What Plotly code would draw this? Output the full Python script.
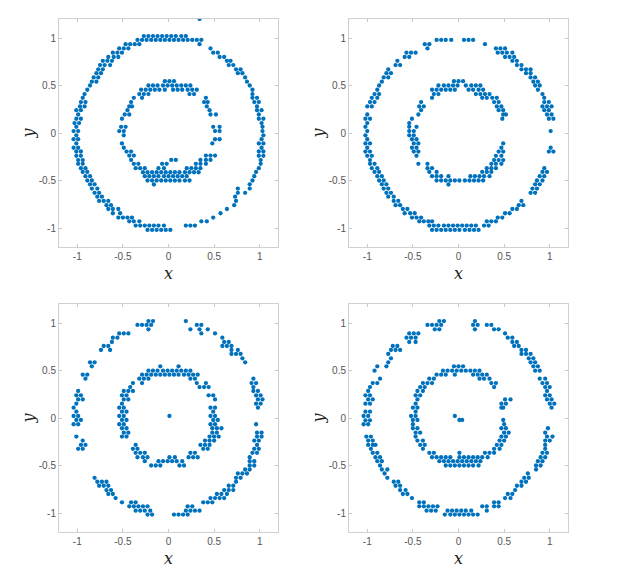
import plotly.graph_objects as go

# ---------------- data: rows of (y, [x values]) ----------------
p1_outer = [
    (1.20, [0.34]),
    (1.02, [-0.27, -0.22, -0.17, -0.12, -0.07, -0.02, 0.03, 0.08, 0.14, 0.19]),
    (0.98, [-0.34, -0.29, -0.24, -0.19, -0.14, -0.09, -0.04, 0.01, 0.06, 0.11, 0.16, 0.21, 0.26, 0.31, 0.36]),
    (0.935, [-0.47, -0.42, -0.37, -0.32, 0.34]),
    (0.89, [-0.54, -0.49, -0.44, 0.46]),
    (0.845, [-0.61, -0.56, -0.51, 0.49, 0.54]),
    (0.80, [-0.66, -0.60, -0.55, 0.56, 0.61]),
    (0.76, [-0.72, -0.67, -0.62, 0.64, 0.68]),
    (0.715, [-0.75, -0.70, -0.64, 0.66, 0.71]),
    (0.67, [-0.77, -0.72, 0.74, 0.79]),
    (0.63, [-0.79, -0.74, 0.76, 0.81]),
    (0.585, [-0.82, -0.77, 0.84]),
    (0.54, [-0.84, -0.79, 0.86]),
    (0.50, [-0.86, 0.89]),
    (0.455, [-0.89, 0.92]),
    (0.41, [-0.92, 0.92]),
    (0.37, [-0.94, 0.92, 0.97]),
    (0.325, [-0.96, -0.91, 0.94, 0.99]),
    (0.28, [-0.97, -0.92, 0.97]),
    (0.24, [-1.01, -0.96, 0.97, 1.02]),
    (0.195, [-0.99, 0.99]),
    (0.15, [-1.01, -0.96, 0.99, 1.04]),
    (0.105, [-1.03, -0.98, 1.02]),
    (0.065, [-1.01, 1.03]),
    (0.02, [-1.04, -0.99, 1.03]),
    (-0.025, [-1.01, 1.04]),
    (-0.065, [-1.04, -0.99, 1.02]),
    (-0.11, [-1.01, 0.99, 1.04]),
    (-0.155, [-1.04, -0.99, 1.02]),
    (-0.195, [-1.01, -0.96, 0.99, 1.04]),
    (-0.24, [-1.01, -0.96, 0.99, 1.04]),
    (-0.285, [-0.99, -0.94, 1.01]),
    (-0.325, [-0.99, -0.94, 1.01]),
    (-0.37, [-0.96, -0.91, 0.99]),
    (-0.41, [-0.94, -0.89, 0.96]),
    (-0.455, [-0.91, -0.86, 0.94]),
    (-0.50, [-0.89, -0.84, 0.92]),
    (-0.54, [-0.86, -0.81, 0.89]),
    (-0.585, [-0.84, -0.78, 0.76, 0.89]),
    (-0.63, [-0.81, -0.76, 0.76, 0.84]),
    (-0.67, [-0.78, -0.73, 0.73]),
    (-0.715, [-0.76, -0.71, -0.66, 0.74]),
    (-0.76, [-0.68, -0.63, 0.72]),
    (-0.80, [-0.66, -0.61, -0.55, 0.64]),
    (-0.845, [-0.61, -0.53, 0.57]),
    (-0.89, [-0.55, -0.50, -0.45, -0.40, 0.49]),
    (-0.93, [-0.43, -0.38, -0.32, 0.36, 0.42]),
    (-0.975, [-0.36, -0.31, -0.26, -0.21, -0.16, -0.11, -0.05, 0.19, 0.24, 0.29]),
    (-1.02, [-0.23, -0.18, -0.13, -0.08, -0.03, 0.02]),
]
p1_inner = [
    (0.545, [-0.04, 0.01, 0.06]),
    (0.50, [-0.22, -0.17, -0.12, -0.06, -0.01, 0.04, 0.09, 0.14, 0.19, 0.24]),
    (0.455, [-0.30, -0.25, -0.20, -0.15, -0.10, -0.04, 0.05, 0.10, 0.15, 0.21, 0.26, 0.31]),
    (0.41, [-0.32, -0.27, -0.22, 0.23, 0.28]),
    (0.37, [-0.38, -0.29, 0.41]),
    (0.325, [-0.41, 0.39, 0.43]),
    (0.28, [-0.43, -0.40, 0.42]),
    (0.24, [-0.45, 0.45]),
    (0.195, [-0.48, -0.43, 0.46, 0.52]),
    (0.15, [-0.51]),
    (0.065, [-0.52, -0.47, 0.49, 0.56]),
    (0.02, [-0.54, -0.49, 0.51, 0.56]),
    (-0.025, [-0.49]),
    (-0.066, [0.51, 0.56]),
    (-0.11, [-0.51, 0.48]),
    (-0.155, [-0.49]),
    (-0.196, [-0.46, -0.41]),
    (-0.238, [-0.43, -0.38, 0.41, 0.46, 0.51]),
    (-0.283, [-0.41, 0.03, 0.08, 0.35, 0.41, 0.46]),
    (-0.325, [-0.38, -0.33, -0.07, -0.02, 0.30, 0.35, 0.41]),
    (-0.37, [-0.36, -0.31, -0.26, -0.11, -0.05, 0.20, 0.25, 0.30, 0.35]),
    (-0.413, [-0.28, -0.23, -0.18, -0.13, -0.08, -0.03, 0.02, 0.07, 0.12, 0.18, 0.23, 0.28, 0.33]),
    (-0.455, [-0.26, -0.21, -0.16, -0.11, -0.05, 0.00, 0.05, 0.10, 0.15, 0.20]),
    (-0.50, [-0.23, -0.18, -0.13, -0.08, -0.03, 0.02, 0.07, 0.12, 0.18, 0.23]),
    (-0.542, [-0.16]),
]

p2_outer = [
    (0.98, [-0.24, -0.19, -0.14, -0.08, 0.06, 0.11, 0.16]),
    (0.935, [-0.37, -0.32, 0.29]),
    (0.89, [-0.34, 0.41, 0.46, 0.51]),
    (0.845, [-0.57, -0.52, -0.47, 0.43, 0.48, 0.53, 0.59]),
    (0.80, [-0.59, -0.54, 0.51, 0.56, 0.61]),
    (0.76, [-0.67, 0.59, 0.64]),
    (0.715, [-0.69, -0.64, 0.64, 0.69]),
    (0.67, [-0.77, 0.69, 0.74, 0.79]),
    (0.63, [-0.79, -0.74, 0.74, 0.79]),
    (0.585, [-0.82, -0.77, 0.79, 0.84]),
    (0.54, [-0.84, 0.82, 0.87]),
    (0.50, [-0.87, 0.84, 0.89]),
    (0.455, [-0.89, 0.87]),
    (0.41, [-0.92, -0.87, 0.92]),
    (0.37, [-0.95, -0.89, 0.94]),
    (0.325, [-0.97, -0.92, 0.94, 0.99]),
    (0.28, [-1.00, -0.95, 0.92, 0.97, 1.02]),
    (0.24, [0.94, 0.99]),
    (0.195, [-1.00, 0.97, 1.02]),
    (0.15, [-1.02, -0.97, 0.99, 1.04]),
    (0.105, [-1.00]),
    (0.065, [-1.02]),
    (0.02, [-1.00, 1.01]),
    (-0.025, [-1.02]),
    (-0.066, [-1.00]),
    (-0.11, [-1.02, -0.97]),
    (-0.155, [-1.00, 1.01]),
    (-0.196, [-1.02, -0.97, 0.99, 1.04]),
    (-0.24, [-1.00, -0.95]),
    (-0.285, [-0.97]),
    (-0.325, [-0.97, -0.92]),
    (-0.37, [-0.95, -0.89, 0.94]),
    (-0.41, [-0.92, -0.87, 0.92, 0.97]),
    (-0.455, [-0.89, -0.84, 0.89, 0.94]),
    (-0.50, [-0.87, -0.82, 0.86, 0.92]),
    (-0.54, [-0.84, -0.79, 0.84, 0.89]),
    (-0.585, [-0.82, -0.77, 0.81, 0.86]),
    (-0.63, [-0.79, -0.74, 0.79, 0.84]),
    (-0.67, [-0.77, -0.71]),
    (-0.715, [-0.71, -0.66, 0.69]),
    (-0.76, [-0.69, -0.64, 0.66, 0.71]),
    (-0.80, [-0.61, -0.56, 0.59, 0.64]),
    (-0.845, [-0.59, -0.53, -0.48, 0.51, 0.56]),
    (-0.89, [-0.51, -0.46, -0.41, 0.43, 0.48]),
    (-0.93, [-0.43, -0.38, -0.33, -0.29, 0.31, 0.36, 0.41]),
    (-0.975, [-0.32, -0.27, -0.22, -0.16, -0.11, -0.06, -0.01, 0.04, 0.09, 0.14, 0.19, 0.28, 0.33]),
    (-1.02, [-0.29, -0.24, -0.19, -0.14, -0.09, -0.04, 0.01, 0.07, 0.12, 0.17, 0.22]),
]
p2_inner = [
    (0.545, [-0.05, 0.00, 0.05]),
    (0.50, [-0.22, -0.16, -0.11, -0.06, -0.01, 0.08, 0.14, 0.19, 0.24]),
    (0.455, [-0.29, -0.24, -0.19, -0.14, -0.09, -0.04, 0.11, 0.16, 0.22, 0.27]),
    (0.41, [-0.27, -0.22, 0.19, 0.24, 0.29, 0.34]),
    (0.37, [-0.29, 0.26, 0.31, 0.37, 0.42]),
    (0.325, [-0.41, 0.39, 0.44]),
    (0.28, [-0.43, -0.38, 0.42, 0.47]),
    (0.24, [-0.41, 0.44, 0.49]),
    (0.195, [-0.44, 0.49, 0.52]),
    (0.15, [-0.51, 0.48]),
    (0.105, [-0.54]),
    (0.065, [-0.54, -0.46]),
    (0.02, [-0.54, -0.49]),
    (-0.025, [-0.54, -0.49]),
    (-0.066, [-0.51, -0.46]),
    (-0.11, [-0.49, -0.44, 0.49]),
    (-0.155, [-0.51, -0.46, 0.47]),
    (-0.196, [-0.49, -0.44, 0.44, 0.49]),
    (-0.24, [-0.46, 0.41, 0.47]),
    (-0.285, [0.39, 0.44, 0.49]),
    (-0.325, [-0.44, -0.34, 0.36, 0.41, 0.47]),
    (-0.37, [-0.34, -0.29, 0.31, 0.36, 0.41]),
    (-0.41, [-0.32, -0.24, 0.26, 0.31, 0.36]),
    (-0.455, [-0.29, -0.24, -0.19, -0.11, 0.13, 0.18, 0.23, 0.28, 0.34]),
    (-0.50, [-0.24, -0.19, -0.14, -0.09, -0.04, 0.01, 0.07, 0.12, 0.17, 0.22, 0.27]),
    (-0.542, [-0.11]),
]

p3_outer = [
    (1.02, [-0.22, -0.17, 0.19]),
    (0.98, [-0.34, -0.29, -0.24, -0.19, 0.31, 0.36]),
    (0.933, [-0.22, 0.24, 0.34, 0.43]),
    (0.89, [-0.54, -0.49, -0.44, 0.36, 0.51]),
    (0.845, [-0.61, -0.56, 0.59]),
    (0.80, [-0.62, 0.61, 0.66]),
    (0.758, [-0.71, -0.66, 0.59, 0.64, 0.69]),
    (0.716, [-0.74, -0.64, 0.69, 0.76]),
    (0.674, [0.69, 0.74, 0.79]),
    (0.628, [0.81]),
    (0.586, [-0.86, -0.81, 0.84]),
    (0.544, [-0.84]),
    (0.456, [-0.94, -0.89]),
    (0.414, [-0.91, 0.93]),
    (0.368, [0.91, 0.96]),
    (0.326, [0.93]),
    (0.284, [-0.99, 0.93, 0.98]),
    (0.239, [-1.01, -0.96, 0.96, 1.01]),
    (0.196, [-0.99, -0.94, 0.98, 1.03]),
    (0.151, [-1.01, 0.96, 1.01]),
    (0.109, [-1.04, 0.98]),
    (0.067, [-1.01]),
    (0.021, [-1.04, -0.99]),
    (-0.021, [-1.01, -0.96]),
    (-0.066, [-1.04, -0.99, 0.96]),
    (-0.154, [0.97, 1.02]),
    (-0.196, [-1.01, 0.97, 1.02]),
    (-0.238, [-0.94, 0.94, 0.99]),
    (-0.283, [-0.96, -0.91, 0.97]),
    (-0.325, [-0.99, -0.94, 0.94, 0.99]),
    (-0.367, [0.92, 0.97]),
    (-0.413, [0.89]),
    (-0.455, [0.89, 0.94]),
    (-0.50, [0.89, 0.94]),
    (-0.542, [0.84, 0.89]),
    (-0.584, [0.76, 0.81, 0.86]),
    (-0.63, [-0.81, 0.74, 0.79]),
    (-0.671, [-0.78, -0.73, -0.68, 0.74]),
    (-0.713, [-0.76, -0.71, -0.66, 0.66, 0.71]),
    (-0.759, [-0.68, -0.63, 0.61, 0.66, 0.71]),
    (-0.80, [-0.66, -0.61, 0.53, 0.58, 0.64]),
    (-0.843, [-0.58, 0.46, 0.51, 0.56, 0.61]),
    (-0.888, [-0.51, -0.41, -0.36, 0.38, 0.43, 0.48]),
    (-0.93, [-0.43, -0.38, -0.33, -0.28, -0.23, 0.21, 0.26]),
    (-0.976, [-0.36, -0.31, -0.26, -0.20, 0.19, 0.24, 0.29, 0.34]),
    (-1.017, [-0.23, -0.18, 0.06, 0.11, 0.16, 0.21]),
]
p3_inner = [
    (0.544, [-0.09, 0.11]),
    (0.498, [-0.22, -0.17, -0.12, -0.06, -0.01, 0.04, 0.09, 0.14, 0.19, 0.24]),
    (0.456, [-0.29, -0.24, -0.19, -0.14, -0.09, -0.04, 0.01, 0.06, 0.11, 0.17, 0.22, 0.27, 0.32]),
    (0.414, [-0.32, -0.27, -0.22, 0.24, 0.29]),
    (0.368, [-0.39, -0.29, 0.31, 0.41]),
    (0.326, [-0.42, 0.34, 0.39, 0.44]),
    (0.284, [-0.49, -0.44, -0.39]),
    (0.239, [-0.51, -0.46, 0.44, 0.49]),
    (0.196, [-0.49, -0.44, 0.51]),
    (0.151, [-0.51]),
    (0.109, [-0.54, -0.49, 0.46, 0.51]),
    (0.067, [-0.51, -0.46, 0.49]),
    (0.021, [-0.54, -0.49, 0.01, 0.46, 0.51]),
    (-0.021, [-0.51, -0.46, 0.49, 0.54]),
    (-0.066, [-0.54, -0.49, 0.46, 0.51]),
    (-0.108, [-0.51, -0.46, 0.48, 0.53, 0.58]),
    (-0.154, [-0.49, -0.44, 0.48, 0.53]),
    (-0.196, [-0.51, -0.46, 0.45, 0.50, 0.55]),
    (-0.238, [0.40, 0.45, 0.50]),
    (-0.283, [-0.36, 0.35, 0.40, 0.45]),
    (-0.325, [-0.39, -0.34, 0.38, 0.43]),
    (-0.367, [-0.36, -0.31, -0.26, 0.24, 0.29]),
    (-0.413, [-0.34, -0.28, -0.23, 0.01, 0.07, 0.22, 0.27, 0.32]),
    (-0.455, [-0.26, -0.11, -0.06, -0.01, 0.04, 0.09, 0.15]),
    (-0.50, [-0.19, -0.14, -0.09, 0.12, 0.17]),
]

p4_outer = [
    (1.02, [-0.21, -0.16, 0.18]),
    (0.98, [-0.34, -0.29, -0.24, -0.19, 0.16, 0.21, 0.31, 0.36]),
    (0.933, [-0.26, -0.21, 0.18, 0.39, 0.44]),
    (0.89, [-0.54, -0.49, -0.44, 0.51]),
    (0.845, [-0.57, -0.52, -0.47, 0.54, 0.59]),
    (0.80, [-0.54, -0.47, 0.59, 0.64]),
    (0.758, [-0.72, -0.67, 0.61, 0.66]),
    (0.716, [-0.74, -0.69, -0.64, 0.69, 0.74]),
    (0.674, [-0.77, 0.69, 0.74, 0.79]),
    (0.628, [-0.74, 0.77, 0.82]),
    (0.586, [-0.77, 0.79, 0.84]),
    (0.544, [-0.89, -0.79, 0.82, 0.87]),
    (0.498, [-0.92, 0.84, 0.89]),
    (0.414, [-0.86, 0.89, 0.95]),
    (0.368, [-0.94, -0.89, 0.92, 0.97]),
    (0.326, [-0.97, 0.95, 1.00]),
    (0.284, [-0.99, 0.97]),
    (0.239, [-1.02, -0.97, 0.95, 1.00]),
    (0.196, [-0.99, -0.94, 0.97, 1.02]),
    (0.151, [-1.02, -0.97, 1.00, 1.05]),
    (0.109, [1.02]),
    (0.067, [-1.02, -0.97]),
    (0.021, [-1.04, -0.99]),
    (-0.024, [-1.02, -0.97]),
    (-0.066, [-1.04, -0.99]),
    (-0.108, [0.98]),
    (-0.154, [0.95]),
    (-0.196, [-1.01, -0.96, 0.97, 1.03]),
    (-0.238, [-0.99, -0.94, 0.95, 1.00]),
    (-0.283, [-0.99, -0.94, -0.91, 0.95]),
    (-0.325, [-0.96, 0.95]),
    (-0.367, [-0.94, -0.89, 0.92, 0.97]),
    (-0.413, [-0.91, -0.86, 0.90, 0.95]),
    (-0.455, [-0.89, -0.84, 0.87, 0.92]),
    (-0.50, [-0.86, 0.85, 0.90]),
    (-0.542, [-0.84, -0.78, 0.85]),
    (-0.584, [-0.81, 0.76]),
    (-0.63, [-0.78, 0.72, 0.77]),
    (-0.671, [-0.71, -0.66, 0.69, 0.74]),
    (-0.713, [-0.69, -0.64, 0.64, 0.69]),
    (-0.759, [-0.64, -0.58, 0.62]),
    (-0.80, [-0.61, -0.56, 0.54, 0.59]),
    (-0.843, [-0.51, 0.51, 0.57]),
    (-0.888, [-0.43, -0.38, 0.39, 0.44]),
    (-0.93, [-0.43, -0.38, -0.33, -0.28, -0.23, 0.26, 0.31, 0.39, 0.44]),
    (-0.976, [-0.35, -0.30, -0.25, -0.12, -0.07, -0.02, 0.03, 0.08, 0.14, 0.31]),
    (-1.017, [-0.15, -0.09, -0.04, 0.01, 0.06, 0.11, 0.16, 0.21]),
]
p4_inner = [
    (0.544, [-0.05, 0.00, 0.05]),
    (0.498, [-0.17, -0.12, -0.07, -0.02, 0.03, 0.08, 0.13, 0.18, 0.23]),
    (0.456, [-0.24, -0.19, -0.14, -0.04, 0.16, 0.21, 0.26, 0.31]),
    (0.414, [-0.32, -0.27, 0.23, 0.28, 0.34]),
    (0.368, [-0.39, -0.34, -0.29, 0.36, 0.41]),
    (0.326, [-0.42, -0.37, 0.39]),
    (0.284, [-0.45, -0.39]),
    (0.239, [-0.47, -0.42]),
    (0.196, [-0.45, 0.51, 0.57]),
    (0.151, [-0.47, 0.47, 0.52]),
    (0.109, [-0.50, -0.45, 0.47, 0.49]),
    (0.067, [-0.47]),
    (0.021, [-0.52, -0.47, -0.04]),
    (-0.021, [-0.50, -0.45, 0.01, 0.04, 0.49]),
    (-0.066, [-0.50, 0.50]),
    (-0.108, [-0.50, -0.45, 0.47, 0.52]),
    (-0.154, [-0.47, -0.42, 0.50, 0.55]),
    (-0.196, [-0.47, 0.47, 0.52]),
    (-0.238, [-0.45, -0.39, 0.45, 0.50]),
    (-0.283, [-0.42, -0.37, 0.42, 0.47]),
    (-0.325, [-0.39, 0.39, 0.45]),
    (-0.367, [-0.32, -0.27, 0.01, 0.29, 0.34, 0.39]),
    (-0.413, [-0.29, -0.24, -0.19, -0.14, -0.09, 0.01, 0.06, 0.11, 0.16, 0.21, 0.26, 0.32]),
    (-0.455, [-0.21, -0.16, -0.11, -0.06, -0.01, 0.04, 0.09, 0.14, 0.19, 0.24]),
    (-0.50, [-0.14, -0.09, -0.04, 0.01, 0.06, 0.11, 0.16, 0.22]),
]

tick_vals = [-1, -0.5, 0, 0.5, 1]
tick_text = ["-1", "-0.5", "0", "0.5", "1"]
axis_range = [-1.2, 1.2]
marker_color = "#0072BD"

panels = [
    (p1_outer + p1_inner, "x", "y"),
    (p2_outer + p2_inner, "x2", "y2"),
    (p3_outer + p3_inner, "x3", "y3"),
    (p4_outer + p4_inner, "x4", "y4"),
]

fig = go.Figure()
for rows, xa, ya in panels:
    xs, ys = [], []
    for yv, xl in rows:
        for xv in xl:
            xs.append(xv)
            ys.append(yv)
    fig.add_trace(go.Scatter(
        x=xs, y=ys, mode="markers", xaxis=xa, yaxis=ya,
        marker=dict(color=marker_color, size=4.3, line=dict(width=0)),
        showlegend=False, hoverinfo="skip",
    ))

W, H = 627, 581
xdoms = [[59 / W, 278 / W], [349 / W, 568 / W]]
ydoms = [[1 - 247 / H, 1 - 19 / H], [1 - 532 / H, 1 - 304 / H]]

def ax_common():
    return dict(
        range=axis_range, tickvals=tick_vals, ticktext=tick_text,
        showgrid=False, zeroline=False, showline=True, mirror="ticks",
        linecolor="#d0d0d0", linewidth=1, ticks="inside", ticklen=3,
        tickcolor="#c8c8c8", tickwidth=1,
        tickfont=dict(family="Liberation Sans, Arial, sans-serif", size=10, color="#555555"),
    )

layout = dict(
    width=W, height=H, margin=dict(l=0, r=0, t=0, b=0),
    paper_bgcolor="white", plot_bgcolor="white",
)
title_font = dict(family="DejaVu Serif, Liberation Serif, serif", size=16, color="#222222")
idx = 0
for r in range(2):
    for c in range(2):
        idx += 1
        sx = "" if idx == 1 else str(idx)
        xa = ax_common()
        xa.update(domain=xdoms[c], anchor="y" + sx,
                  title=dict(text="<i>x</i>", font=title_font, standoff=6))
        ya = ax_common()
        ya.update(domain=ydoms[r], anchor="x" + sx,
                  title=dict(text="<i>y</i>", font=title_font, standoff=0))
        layout["xaxis" + sx] = xa
        layout["yaxis" + sx] = ya

fig.update_layout(**layout)
fig.write_html(
    "out.html",
    config={"displayModeBar": False},
    post_script="document.body.style.margin='0';document.body.style.overflow='hidden';",
)
